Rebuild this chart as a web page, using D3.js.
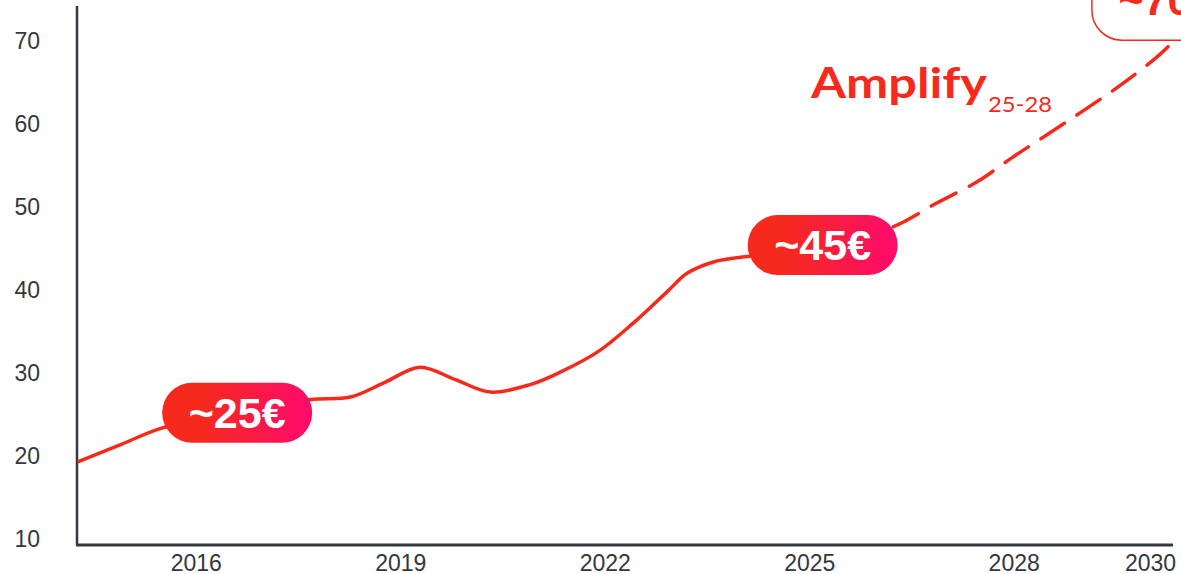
<!DOCTYPE html>
<html>
<head>
<meta charset="utf-8">
<script src="https://cdn.jsdelivr.net/npm/d3@7"></script>
<style>
  body { margin: 0; background: #fff; }
  svg { display: block; }
</style>
</head>
<body>
<div class="container"></div>
<script>
// values (year, value)
var actualYears  = [2014.26, 2014.9, 2015.47, 2016.6, 2017.67, 2018.26, 2018.75, 2019.28, 2019.8, 2020.31, 2020.9, 2021.34, 2021.9, 2022.41, 2022.91, 2023.2, 2023.6, 2024.13, 2025.0];
var actualValues = [19.3, 21.4, 23.3, 25.3, 26.8, 27.1, 28.8, 30.7, 29.2, 27.7, 28.6, 30.1, 32.6, 36.0, 39.8, 42.0, 43.4, 44.1, 45.3];
var planYears    = [2025.0, 2025.6, 2026.22, 2026.87, 2027.45, 2027.98, 2028.52, 2029.07, 2029.6, 2030.1, 2030.33];
var planValues   = [45.3, 46.3, 47.6, 50.5, 53.0, 56.0, 58.9, 61.9, 64.9, 68.1, 69.9];
var yTicks = [10, 20, 30, 40, 50, 60, 70];
var xTicks = [2016, 2019, 2022, 2025, 2028, 2030];
var badgeYears  = [2016.6, 2025.19, 2030.24];
var badgeValues = [25.2, 45.4, 73.7];
var badgeTexts  = ["~25€", "~45€", "~70€"];

var W = 1181, H = 574;
var red = "#f52a1d", pink = "#ff0a6e", axisCol = "#34393f";

var svg = d3.select('.container').append('svg').attr('width', W).attr('height', H);

var x = d3.scaleLinear().domain([2014.25, 2030.33]).range([77, 1173]);
var y = d3.scaleLinear().domain([9.28, 74.2]).range([545, 6]);

var defs = svg.append('defs');
var grad = defs.append('linearGradient').attr('id', 'pill').attr('x1', '0%').attr('x2', '100%');
grad.append('stop').attr('offset', '25%').attr('stop-color', red);
grad.append('stop').attr('offset', '100%').attr('stop-color', pink);

// axes
svg.append('line').attr('x1', x(2014.25)).attr('x2', x(2014.25)).attr('y1', y(74.2)).attr('y2', y(9.28))
   .attr('stroke', axisCol).attr('stroke-width', 2.5);
svg.append('line').attr('x1', x(2014.25) - 1).attr('x2', x(2030.33)).attr('y1', y(9.28)).attr('y2', y(9.28))
   .attr('stroke', axisCol).attr('stroke-width', 3);

svg.selectAll('text.ytick').data(yTicks).enter().append('text')
   .attr('class', 'ytick')
   .attr('x', 40).attr('y', function(d){ return y(d) + 8; })
   .attr('text-anchor', 'end')
   .attr('font-family', 'Liberation Sans, Arial, sans-serif').attr('font-size', 23)
   .attr('fill', '#33373d')
   .text(function(d){ return d; });

svg.selectAll('text.xtick').data(xTicks).enter().append('text')
   .attr('class', 'xtick')
   .attr('x', function(d){ return x(d); }).attr('y', 571)
   .attr('text-anchor', 'middle')
   .attr('font-family', 'Liberation Sans, Arial, sans-serif').attr('font-size', 23)
   .attr('fill', '#33373d')
   .text(function(d){ return d; });

// lines
var line = d3.line()
   .x(function(d){ return x(d[0]); })
   .y(function(d){ return y(d[1]); })
   .curve(d3.curveCatmullRom.alpha(0.5));

svg.append('path').datum(d3.zip(planYears, planValues))
   .attr('d', line).attr('fill', 'none').attr('stroke', red)
   .attr('stroke-width', 3.5).attr('stroke-dasharray', '28 15').attr('stroke-linecap', 'round');

svg.append('path').datum(d3.zip(actualYears, actualValues))
   .attr('d', line).attr('fill', 'none').attr('stroke', red)
   .attr('stroke-width', 3.5);

// Amplify label
var amp = svg.append('text').attr('x', 811).attr('y', 98)
   .attr('font-family', 'Lato, sans-serif').attr('font-weight', 'bold').attr('fill', red);
amp.append('tspan').attr('font-size', 42).attr('textLength', 176).attr('lengthAdjust', 'spacingAndGlyphs').text('Amplify');
amp.append('tspan').attr('x', 988).attr('y', 112).attr('font-size', 22).attr('font-weight', 'normal')
   .attr('textLength', 64).attr('lengthAdjust', 'spacingAndGlyphs').text('25-28');

// badges
var badges = svg.selectAll('g.badge').data(d3.range(badgeTexts.length)).enter().append('g')
   .attr('class', 'badge')
   .attr('transform', function(i){ return 'translate(' + x(badgeYears[i]) + ',' + y(badgeValues[i]) + ')'; });

badges.append('rect')
   .attr('x', -75).attr('y', function(i){ return i == 2 ? -40 : -30; })
   .attr('width', 150).attr('height', function(i){ return i == 2 ? 70 : 60; }).attr('rx', 30)
   .attr('fill', function(i){ return i == 2 ? '#fff' : 'url(#pill)'; })
   .attr('stroke', function(i){ return i == 2 ? red : 'none'; })
   .attr('stroke-width', 1.5);

badges.append('text')
   .attr('y', function(i){ return i == 2 ? 5 : 15; }).attr('text-anchor', 'middle')
   .attr('font-family', 'Liberation Sans, Arial, sans-serif').attr('font-weight', 'bold').attr('font-size', 43)
   .attr('fill', function(i){ return i == 2 ? red : '#fff'; })
   .text(function(i){ return badgeTexts[i]; });
</script>
</body>
</html>
